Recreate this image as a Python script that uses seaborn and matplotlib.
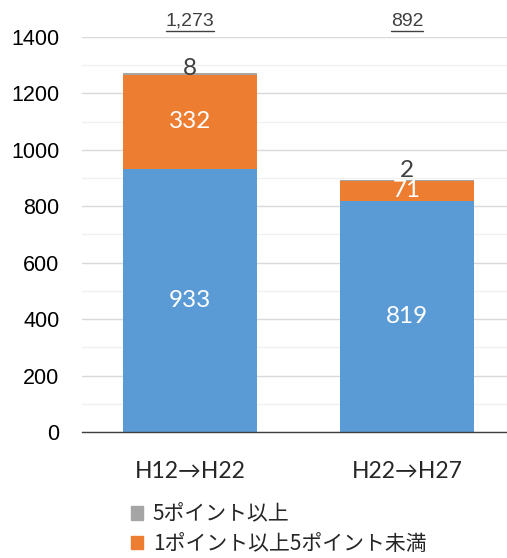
import pandas as pd
import numpy as np
import matplotlib.pyplot as plt
import seaborn as sns
from matplotlib.lines import Line2D
from matplotlib.patches import Patch

sns.set_theme(style="white")
plt.rcParams['font.family'] = ['Liberation Sans', 'Noto Sans CJK JP', 'DejaVu Sans']

# ---------------------------------------------------------
# data
# ---------------------------------------------------------
periods = ["H12→H22", "H22→H27"]
under_1 = [933, 819]       # blue
from_1_to_5 = [332, 71]    # orange
over_5 = [8, 2]            # grey
totals_text = ["1,273", "892"]
legend_labels = ["5ポイント以上", "1ポイント以上5ポイント未満"]

c_blue, c_orange, c_grey = "#5B9BD5", "#ED7D31", "#A5A5A5"

df = pd.DataFrame({"period": periods, "low": under_1, "mid": from_1_to_5, "high": over_5})
df["mid_bottom"] = df["low"]
df["high_bottom"] = df["low"] + df["mid"]

fig = plt.figure(figsize=(5.07, 5.58), dpi=100)
ax = fig.add_axes([0.161, 0.2258, 0.856, 0.708])

bar_kw = dict(width=0.62, saturation=1, linewidth=0, ax=ax)
sns.barplot(data=df, x="period", y="low", color=c_blue, **bar_kw)
sns.barplot(data=df, x="period", y="mid", bottom=df["mid_bottom"], color=c_orange, **bar_kw)
sns.barplot(data=df, x="period", y="high", bottom=df["high_bottom"], color=c_grey, **bar_kw)

ax.set_ylim(0, 1400)
ax.set_xlim(-0.5, 1.5)
ax.set_yticks(np.arange(0, 1401, 200))
ax.set_yticks(np.arange(100, 1400, 200), minor=True)
ax.grid(axis="y", which="major", color="#D9D9D9", lw=1)
ax.grid(axis="y", which="minor", color="#F0F0F0", lw=1)
ax.set_axisbelow(True)
for s in ["top", "right", "left"]:
    ax.spines[s].set_visible(False)
ax.spines["bottom"].set_color("#404040")
ax.spines["bottom"].set_linewidth(1)
ax.tick_params(axis="y", which="both", length=0, labelsize=15.5, pad=16, labelcolor="black")
ax.tick_params(axis="x", length=0, pad=21)
ax.set_xticks(range(len(periods)))
ax.set_xticklabels(periods, fontsize=16.5, family=['Lato', 'Noto Sans CJK JP'])
ax.set_xlabel("")
ax.set_ylabel("")

# segment labels
lbl_font = ['Lato', 'DejaVu Sans']
top_offsets = [16, 34]
for i in range(len(periods)):
    ax.text(i, under_1[i] / 2, str(under_1[i]), ha="center", va="center",
            color="white", fontsize=17.5, family=lbl_font)
    ax.text(i, under_1[i] + from_1_to_5[i] / 2, str(from_1_to_5[i]), ha="center",
            va="center", color="white", fontsize=17.5, family=lbl_font)
    ax.text(i, under_1[i] + from_1_to_5[i] + over_5[i] + top_offsets[i], str(over_5[i]),
            ha="center", va="center", color="#404040", fontsize=17.5, family=lbl_font)

# totals with underline
fig.canvas.draw()
renderer = fig.canvas.get_renderer()
for i, t in enumerate(totals_text):
    x_fig = fig.transFigure.inverted().transform(ax.transData.transform((i, 0)))[0]
    txt = fig.text(x_fig, 0.962, t, ha="center", va="center", fontsize=14,
                   color="#404040", family=['Liberation Sans Narrow', 'Liberation Sans'])
    bb = txt.get_window_extent(renderer).transformed(fig.transFigure.inverted())
    fig.add_artist(Line2D([bb.x0, bb.x1], [bb.y0 - 0.003, bb.y0 - 0.003],
                          transform=fig.transFigure, color="#404040", lw=1))

# legend
handles = [Patch(color=c_grey), Patch(color=c_orange)]
fig.legend(handles, legend_labels, loc="upper left", bbox_to_anchor=(0.258, 0.098),
           frameon=False, handlelength=0.6, handleheight=0.6,
           handletextpad=0.45, labelspacing=0.35, borderaxespad=0, borderpad=0,
           prop={'family': ['Noto Sans CJK JP', 'DejaVu Sans'], 'size': 15})

fig.savefig("out.png", dpi=100)
